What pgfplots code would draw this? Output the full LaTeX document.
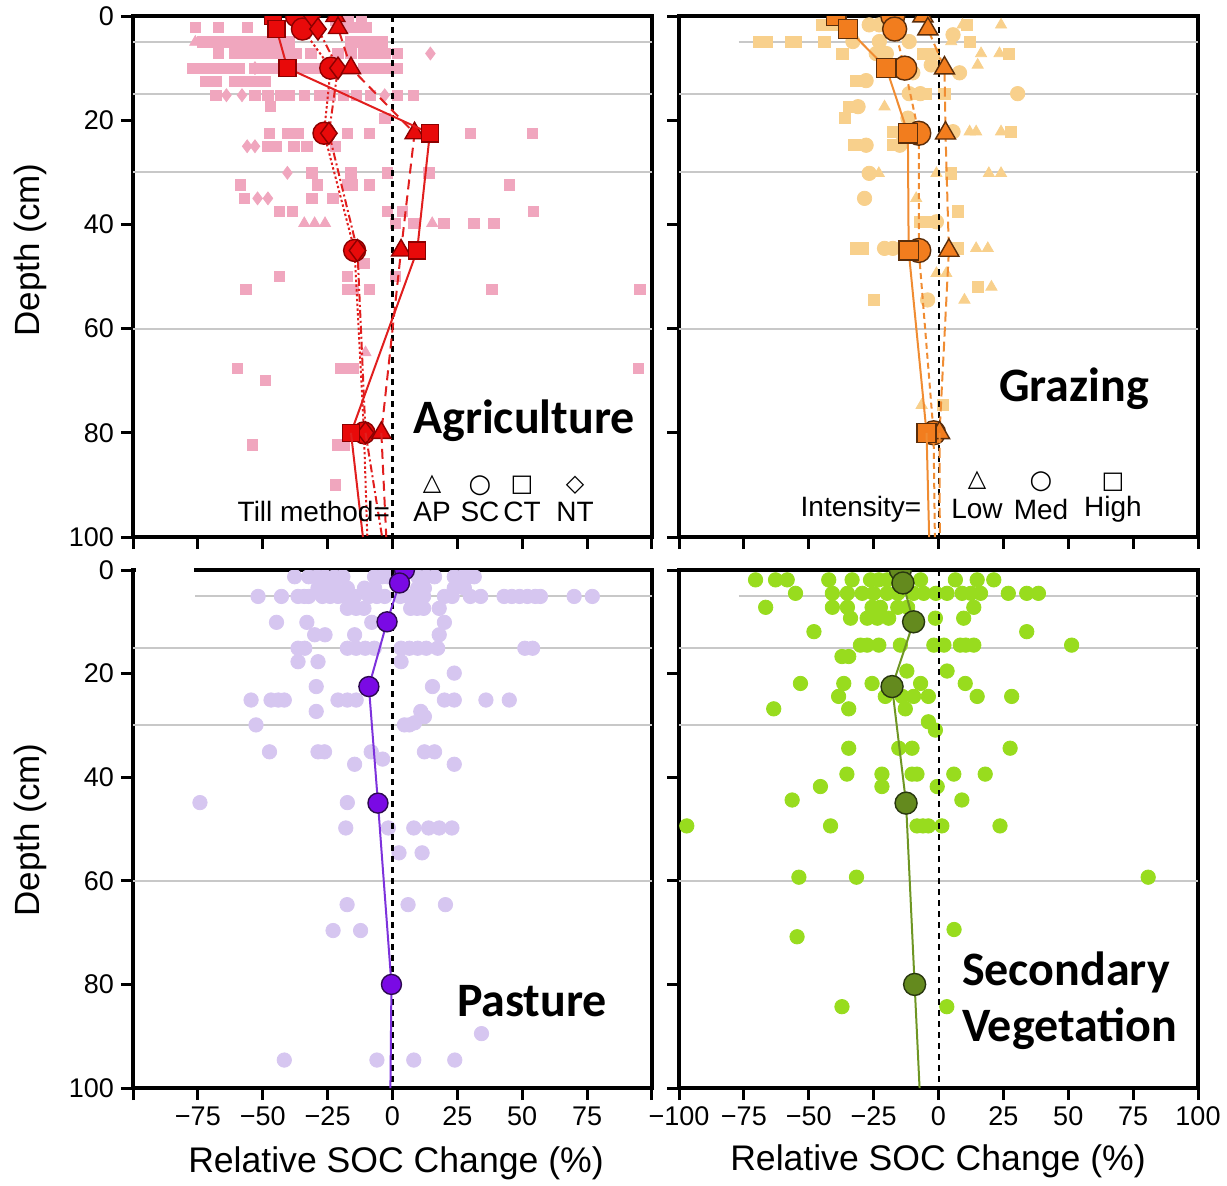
\documentclass[border=0pt]{standalone}
\usepackage{pgfplots}
\pgfplotsset{compat=1.18}
\usepackage{fontspec}
\setmainfont{Liberation Sans}
\newfontfamily\calibri{Carlito}
\newfontfamily\dejavu{DejaVu Sans}

\definecolor{agpink}{RGB}{240,166,190}
\definecolor{agred}{RGB}{232,10,10}
\definecolor{agdark}{RGB}{140,0,0}
\definecolor{agline}{RGB}{225,30,30}
\definecolor{grlight}{RGB}{248,208,140}
\definecolor{grorange}{RGB}{242,125,30}
\definecolor{grdark}{RGB}{90,45,10}
\definecolor{grline}{RGB}{240,140,50}
\definecolor{palight}{RGB}{214,198,240}
\definecolor{papurple}{RGB}{122,10,228}
\definecolor{padark}{RGB}{45,10,80}
\definecolor{paline}{RGB}{125,50,220}
\definecolor{svlight}{RGB}{152,220,30}
\definecolor{svgreen}{RGB}{100,138,30}
\definecolor{svdark}{RGB}{40,55,15}
\definecolor{svline}{RGB}{110,150,35}
\definecolor{gridgray}{RGB}{200,200,200}

\pgfplotsset{
  panel/.style={
    scale only axis, width=259.5pt,
    xmin=-100, xmax=100, ymin=0, ymax=100, y dir=reverse,
    axis line style={line width=2pt},
    xtick={-100,-75,...,100}, ytick={0,20,40,60,80,100},
    tick align=outside, major tick length=6pt,
    every tick/.style={black, line width=1.5pt},
    xtick pos=lower, ytick pos=lower,
    tick label style={font=\fontsize{13.5}{14}\selectfont},
    xticklabels={}, yticklabels={},
    clip marker paths=true,
  },
  gline/.style={gridgray, line width=1pt, forget plot},
  zline/.style={black, line width=1pt, dash pattern=on 3pt off 2.5pt},
}

\begin{document}
\begin{tikzpicture}[x=0.5pt,y=-0.5pt]
\useasboundingbox (0,0) rectangle (1227,1185);

% ---------------- Agriculture ----------------
\begin{axis}[panel, height=260.5pt, at={(66.5pt,-8pt)}, anchor=north west,
  yticklabels={0,20,40,60,80,100}]
\addplot[gline] coordinates {(-100,5) (100,5)};
\addplot[gline] coordinates {(-100,15) (100,15)};
\addplot[gline] coordinates {(-100,30) (100,30)};
\addplot[gline] coordinates {(-100,60) (100,60)};
\addplot[only marks, mark=square*, mark size=2.6pt, agpink] coordinates {
(-22,0.8) (-17,0.8) (-12,0.8)
(-76,2.2) (-67,2.2) (-56,2.2) (-18,2.2) (-14,2.2) (-10,2.2)
(-73,5) (-70,5) (-67,5) (-64,5) (-61,5) (-58,5) (-55,5) (-52,5) (-49,5) (-46,5) (-43,5) (-40,5) (-16,5) (-13,5) (-10,5) (-7,5) (-4,5)
(-67,7.2) (-61,7.2) (-58,7.2) (-55,7.2) (-52,7.2) (-49,7.2) (-46,7.2) (-43,7.2) (-40,7.2) (-37,7.2) (-31.5,7.2) (-21,7.2) (-16,7.2) (-11,7.2) (-7,7.2) (-3,7.2) (2,7.2)
(-77,10) (-74,10) (-71,10) (-68,10) (-65,10) (-62,10) (-59,10) (-53,10) (-50,10) (-47,10) (-44,10) (-36,10) (-33,10) (-29,10) (-11,10) (-8,10) (-5,10) (-2,10) (2,10)
(-72,12.6) (-68,12.6) (-61,12.6) (-58,12.6) (-55,12.6) (-52,12.6) (-49,12.6)
(-68,15.2) (-53,15.2) (-48,15.2) (-43,15.2) (-40,15.2) (-34,15.2) (-28,15.2) (-24,15.2) (-19,15.2) (-14,15.2) (-8.5,15.2) (2,15.2) (8,15.2)
(-47,17.4) (-3,19.6)
(-47.5,22.5) (-40.5,22.5) (-36.5,22.5) (-17.4,22.5) (-9,22.5) (30,22.5) (54,22.5)
(-48,25) (-45,25) (-38,25) (-33,25) (-22,25)
(-31,30.1) (-16,30.1) (-2,30.1) (14,30.1)
(-58.5,32.4) (-29,32.4) (-17.4,32.4) (-15.6,32.4) (-9,32.4) (45,32.4)
(-57,35) (-31,35) (-23,35)
(-43.5,37.5) (-38.5,37.5) (-2,37.5) (3.7,37.5) (54.4,37.5)
(1.2,39.8) (8.2,39.8) (19.8,39.8) (31.3,39.8) (39,39.8)
(-11,47.5)
(-43.5,50) (-17.4,50) (1.2,50)
(-56.5,52.5) (-17.4,52.5) (-15,52.5) (-9,52.5) (38.3,52.5) (95.4,52.5)
(-59.7,67.6) (-20,67.6) (-17,67.6) (-15,67.6) (94.8,67.6)
(-49,69.9)
(-54,82.3) (-21,82.3) (-18.7,82.3)
(-22,90)
};
\addplot[only marks, mark=diamond*, mark size=3.2pt, agpink] coordinates {
(14.6,7.2) (-64,15.2) (-58,15.2) (-3,15.2) (-56,25) (-53,25) (-40.5,30.1) (-52,35) (-48,35) (-53,10)
};
\addplot[only marks, mark=triangle*, mark size=3.2pt, agpink] coordinates {
(-76,5) (-34,39.8) (-30,39.8) (-26,39.8) (15.3,39.8) (-10.4,64.6)
};
\addplot[zline] coordinates {(0,0) (0,100)};
% means
\addplot[agline, line width=1pt, dash pattern=on 1.2pt off 1.2pt, mark=*, mark size=5.5pt,
  mark options={solid, fill=agred, draw=agdark, line width=0.7pt}]
  coordinates {(-37,0) (-34.7,2.5) (-23.8,10) (-26.4,22.5) (-14.6,45) (-11,80)};
\addplot[agline, line width=1pt, dash pattern=on 1.2pt off 1.2pt] coordinates {(-11,80) (-9.7,100)};
\addplot[agline, line width=1pt, dash pattern=on 4pt off 1.5pt on 1pt off 1.5pt, mark=diamond*, mark size=5.5pt,
  mark options={solid, fill=agred, draw=agdark, line width=0.7pt}]
  coordinates {(-31,0) (-28.7,2.5) (-21,10) (-24.5,22.5) (-13.5,45) (-10.4,80)};
\addplot[agline, line width=1pt, dash pattern=on 4pt off 1.5pt on 1pt off 1.5pt] coordinates {(-10.4,80) (-4,100)};
\addplot[agline, line width=1pt, dash pattern=on 5pt off 3pt, mark=triangle*, mark size=5.5pt,
  mark options={solid, fill=agred, draw=agdark, line width=0.7pt}]
  coordinates {(-22,0) (-21,2.3) (-16,10) (8.5,22.5) (3.3,45) (-4.3,80)};
\addplot[agline, line width=1pt, dash pattern=on 5pt off 3pt] coordinates {(-4.3,80) (-2.4,100)};
\addplot[agline, line width=1pt, mark=square*, mark size=4.3pt,
  mark options={solid, fill=agred, draw=agdark, line width=0.7pt}]
  coordinates {(-46,0) (-44.7,2.5) (-40.5,10) (14.4,22.5) (9.5,45) (-16,80)};
\addplot[agline, line width=1pt] coordinates {(-16,80) (-11.4,100)};
\end{axis}

% ---------------- Grazing ----------------
\begin{axis}[panel, height=260.5pt, at={(339.5pt,-8pt)}, anchor=north west]
\addplot[gline] coordinates {(-77,5) (100,5)};
\addplot[gline] coordinates {(-100,15) (100,15)};
\addplot[gline] coordinates {(-100,30) (100,30)};
\addplot[gline] coordinates {(-100,60) (100,60)};
\addplot[only marks, mark=square*, mark size=2.8pt, grlight] coordinates {
(-45,1.7) (-41,1.7) (11,1.7)
(-69,4.9) (-66,4.9) (-57,4.9) (-55,4.9) (-44,4.9) (12,4.9)
(-37,7.2) (-6,7.2) (-2,7.2) (27,7.2)
(-31.7,12.4) (-9,14.9) (-5,14.9) (2.3,14.9)
(-34.3,17.4) (-36.2,19.6)
(-17.5,22.2) (27.9,22.2)
(-32.4,24.8) (-17.5,24.8)
(4.9,30.2) (7.4,37.5) (-7.3,39.5) (-4.7,39.5)
(-31.7,44.6) (-29,44.6) (7.4,44.6)
(15.3,52) (-24.8,54.5) (1.6,74.7)
};
\addplot[only marks, mark=*, mark size=3.6pt, grlight] coordinates {
(-26.7,1.7) (-22.8,1.7) (5.6,3.6) (-33,4.9) (-22.8,4.9) (-11.3,4.9) (-24,7.2) (-20.1,7.2)
(-2.8,9.4) (-9.9,10.9) (8.1,10.9) (-27.9,12.4) (-11.3,14.9) (-7,14.9) (30.5,14.9)
(-31,17.4) (-11.8,19.6) (5.6,22.2) (-27.9,24.8) (-14.9,24.8) (-26.7,30.2) (-28.5,35)
(-0.8,39.5) (-20.8,44.6) (-17.6,44.6) (-4.2,54.5) (-14,44.6)
};
\addplot[only marks, mark=triangle*, mark size=3.2pt, grlight] coordinates {
(9.3,1.7) (24.1,1.7) (4.9,4.9) (16.4,7.2) (23.5,7.2) (15.1,9.4) (-20.8,17.4) (12,22.2)
(14.5,22.2) (24.1,22.2) (-23,30.2) (-0.8,30.2) (19.4,30.2) (24.1,30.2) (-8.6,35)
(14.5,44.6) (19,44.6) (-0.8,49.4) (3,49.4) (20.4,52) (10,54.5) (-6.5,74.7)
};
\addplot[zline] coordinates {(0,0) (0,100)};
\addplot[grline, line width=1pt, dash pattern=on 3pt off 2pt, mark=*, mark size=6pt,
  mark options={solid, fill=grorange, draw=grdark, line width=0.7pt}]
  coordinates {(-17.6,0) (-16.9,2.5) (-13,10) (-7.6,22.5) (-7.6,45) (-1.9,80)};
\addplot[grline, line width=1pt, dash pattern=on 3pt off 2pt] coordinates {(-1.9,80) (-1.4,100)};
\addplot[grline, line width=1pt, dash pattern=on 5pt off 2.5pt, mark=triangle*, mark size=5.8pt,
  mark options={solid, fill=grorange, draw=grdark, line width=0.7pt}]
  coordinates {(-6,0) (-4.1,2.5) (2.3,10) (2.7,22.5) (4,45) (0.4,80)};
\addplot[grline, line width=1pt, dash pattern=on 5pt off 2.5pt] coordinates {(0.4,80) (0.5,100)};
\addplot[grline, line width=1pt, mark=square*, mark size=4.8pt,
  mark options={solid, fill=grorange, draw=grdark, line width=0.7pt}]
  coordinates {(-39.4,0) (-34.9,2.5) (-20.1,10) (-11.8,22.5) (-11.5,45) (-4.6,80)};
\addplot[grline, line width=1pt] coordinates {(-4.6,80) (-3.6,100)};
\end{axis}

% ---------------- Pasture ----------------
\begin{axis}[panel, height=259pt, at={(66.5pt,-285pt)}, anchor=north west,
  yticklabels={0,20,40,60,80,100},
  xticklabels={,−75,−50,−25,0,25,50,75,}]
\addplot[gline] coordinates {(-76,5) (100,5)};
\addplot[gline] coordinates {(-100,15) (100,15)};
\addplot[gline] coordinates {(-100,30) (100,30)};
\addplot[gline] coordinates {(-100,60) (100,60)};
\addplot[only marks, mark=*, mark size=3.6pt, palight] coordinates {
(-37.7,1.3) (-32.3,1.3) (-29,1.3) (-26,1.3) (-22.3,1.3) (-19.1,1.3) (-6.9,1.3) (-4,1.3) (-1.8,1.3) (9.7,1.3) (13,1.3) (16.2,1.3) (23.8,1.3) (27,1.3) (29,1.3) (31.5,1.3)
(-28.7,3.5) (-25.5,3.5) (-22.3,3.5) (-17.4,3.5) (-10.8,3.5) (-6.9,3.5) (9.7,3.5) (12.3,3.5) (23.8,3.5) (27.7,3.5)
(-51.8,5.1) (-42.8,5.1) (-36.4,5.1) (-34,5.1) (-32.3,5.1) (-27,5.1) (-24,5.1) (-21,5.1) (-18,5.1) (-14.6,5.1) (-9,5.1) (-6,5.1) (-3,5.1) (3,5.1) (6,5.1) (9,5.1) (12,5.1) (20,5.1) (23,5.1) (30,5.1) (34,5.1) (43,5.1) (46,5.1) (49,5.1) (52,5.1) (55,5.1) (57,5.1) (70,5.1) (77,5.1)
(-17.4,7.4) (-14,7.4) (-11,7.4) (7,7.4) (9.5,7.4) (12,7.4) (18,7.4)
(-44.7,10.1) (-33,10.1) (-8,10.1) (20,10.1)
(-30,12.5) (-26,12.5) (-14.6,12.5) (18,12.5)
(-36.4,15.1) (-33.8,15.1) (-17.4,15.1) (-14,15.1) (-10.5,15.1) (-7,15.1) (3.3,15.1) (6.5,15.1) (9.7,15.1) (13,15.1) (17.4,15.1) (51,15.1) (54,15.1)
(-36.4,17.7) (-28.7,17.7) (3.3,17.7) (23.8,19.9)
(-29.4,22.5) (15.4,22.5)
(-54.5,25.1) (-46.8,25.1) (-44,25.1) (-41.7,25.1) (-21,25.1) (-17.4,25.1) (-14,25.1) (20,25.1) (23.8,25.1) (36,25.1) (45,25.1)
(-29.4,27.3) (10.9,27.3) (12.3,28.3)
(-52.6,29.9) (4.6,29.9) (6.5,29.9) (8.5,29.5)
(-47.4,35.1) (-28.7,35.1) (-26.2,35.1) (-8.2,35.1) (12.3,35.1) (16.2,35.1)
(-14.6,37.5) (-3.8,36.5) (23.8,37.5)
(-74.2,44.9) (-17.4,44.9)
(-18,49.8) (-1.6,49.8) (8.2,49.8) (13.9,49.8) (18,49.8) (22.9,49.8)
(2.5,54.6) (11.4,54.6)
(-17.5,64.6) (6,64.6) (20.4,64.6)
(-22.9,69.6) (-12.3,69.6)
(34.3,89.5)
(-41.7,94.6) (-6,94.6) (8.2,94.6) (24,94.6)
};
\addplot[zline] coordinates {(0,0) (0,100)};
\addplot[paline, line width=1pt] coordinates {(4.6,0) (2.7,2.5) (-2.1,10) (-9.1,22.5) (-5.6,45) (-0.4,80) (-0.8,100)};
\addplot[only marks, mark=*, mark size=5pt, mark options={fill=papurple, draw=padark, line width=0.7pt}]
  coordinates {(4.6,0) (2.7,2.5) (-2.1,10) (-9.1,22.5) (-5.6,45) (-0.4,80)};
\end{axis}

% ---------------- Secondary Vegetation ----------------
\begin{axis}[panel, height=259pt, at={(339.5pt,-285pt)}, anchor=north west,
  xticklabels={−100,−75,−50,−25,0,25,50,75,100}]
\addplot[gline] coordinates {(-77,5) (100,5)};
\addplot[gline] coordinates {(-100,15) (100,15)};
\addplot[gline] coordinates {(-100,30) (100,30)};
\addplot[gline] coordinates {(-100,60) (100,60)};
\addplot[only marks, mark=*, mark size=3.6pt, svlight] coordinates {
(-70.5,1.9) (-62.8,1.9) (-58.3,1.9) (-42.3,1.9) (-33.3,1.9) (-26.2,1.9) (-23,1.9) (-19.8,1.9) (-6.9,1.9) (6.5,1.9) (14.9,1.9) (21.3,1.9)
(-55.1,4.5) (-40.9,4.5) (-35.1,4.5) (-29.4,4.5) (-25,4.5) (-19.8,4.5) (-15.7,4.5) (-9.6,4.5) (-5.7,4.5) (-1,4.5) (3.3,4.5) (9.1,4.5) (12.5,4.5) (16.2,4.5) (26.9,4.5) (34,4.5) (38.5,4.5)
(-66.6,7.2) (-40.9,7.2) (-35.1,7.2) (-25.6,7.2) (-22.4,7.2) (-15.7,7.2) (-11.9,7.2) (13.6,7.2)
(-33.9,9.3) (-27.5,9.3) (-23.6,9.3) (-19.2,9.3) (-1.2,9.3) (9.7,9.3)
(-48,11.9) (34,11.9)
(-30.1,14.5) (-27.5,14.5) (-23,14.5) (-14.7,14.5) (-1.8,14.5) (2.1,14.5) (8.4,14.5) (10.5,14.5) (13.6,14.5) (51.3,14.5)
(-37.2,16.7) (-34.6,16.7)
(-12.2,19.5) (3.3,19.5)
(-53.2,21.9) (-36.5,21.9) (-25.6,21.9) (-6.9,21.9) (10.3,21.9)
(-38.5,24.4) (-20.5,24.4) (-14,24.4) (-9.6,24.4) (-3.9,24.4) (14.9,24.4) (28.2,24.4)
(-63.5,26.8) (-34.6,26.8) (-12.8,26.8)
(-3.9,29.3) (-1.2,30.9)
(-34.6,34.4) (-15.3,34.4) (-10.2,34.4) (27.6,34.4)
(-35.3,39.4) (-21.8,39.4) (-10.2,39.4) (-8.3,39.4) (5.9,39.4) (18,39.4)
(-45.5,41.8) (-21.8,41.8) (-0.5,41.8)
(-56.4,44.4) (9,44.4)
(-97,49.4) (-41.6,49.4) (-8.3,49.4) (-6,49.4) (-3.9,49.4) (1.3,49.4) (23.7,49.4)
(-53.8,59.3) (-31.6,59.3) (80.8,59.3)
(6,69.4) (-54.5,70.8)
(-37.2,84.3) (3.2,84.3)
};
\addplot[zline] coordinates {(0,0) (0,100)};
\addplot[svline, line width=1pt] coordinates {(-14.7,0) (-13.7,2.5) (-9.6,10) (-17.9,22.5) (-12.5,45) (-9.2,80) (-7.3,100)};
\addplot[only marks, mark=*, mark size=5.5pt, mark options={fill=svgreen, draw=svdark, line width=0.7pt}]
  coordinates {(-14.7,0) (-13.7,2.5) (-9.6,10) (-17.9,22.5) (-12.5,45) (-9.2,80)};
\end{axis}

% white patch artifact (top-left of pasture panel)
\fill[white] (136,563) rectangle (194,576);

% axis labels
\node[rotate=90, font=\fontsize{17.5}{18}\selectfont] at (30,250) {Depth (cm)};
\node[rotate=90, font=\fontsize{17.5}{18}\selectfont] at (30,830) {Depth (cm)};
\node[font=\fontsize{17.8}{18}\selectfont] at (396,1163) {Relative SOC Change (\%)};
\node[font=\fontsize{17.8}{18}\selectfont] at (938,1161) {Relative SOC Change (\%)};

% panel labels
\node[font=\calibri\bfseries\fontsize{24}{26}\selectfont] at (524,421) {Agriculture};
\node[font=\calibri\bfseries\fontsize{24}{26}\selectfont] at (1074,389) {Grazing};
\node[font=\calibri\bfseries\fontsize{24}{26}\selectfont] at (532,1001) {Pasture};
\node[font=\calibri\bfseries\fontsize{24}{28}\selectfont, align=left, anchor=west] at (955,1001) {Secondary\\Vegetation};

% legend texts
\node[font=\fontsize{14}{15}\selectfont, anchor=east] at (397,511) {Till method=};
\node[font=\fontsize{14}{15}\selectfont] at (432,512) {AP};
\node[font=\fontsize{14}{15}\selectfont] at (480,512) {SC};
\node[font=\fontsize{14}{15}\selectfont] at (522,512) {CT};
\node[font=\fontsize{14}{15}\selectfont] at (575,512) {NT};
\node[font=\dejavu\fontsize{12}{13}\selectfont] at (432,484) {△};
\node[font=\dejavu\fontsize{13}{14}\selectfont] at (480,486) {○};
\node[font=\dejavu\fontsize{12}{13}\selectfont] at (522,485) {□};
\node[font=\dejavu\fontsize{12}{13}\selectfont] at (575,485) {◇};

\node[font=\fontsize{14}{15}\selectfont] at (861,509) {Intensity=};
\node[font=\fontsize{14}{15}\selectfont] at (977,509) {Low};
\node[font=\fontsize{14}{15}\selectfont] at (1041,509) {Med};
\node[font=\fontsize{14}{15}\selectfont] at (1113,509) {High};
\node[font=\dejavu\fontsize{12}{13}\selectfont] at (977,480) {△};
\node[font=\dejavu\fontsize{13}{14}\selectfont] at (1041,482) {○};
\node[font=\dejavu\fontsize{12}{13}\selectfont] at (1113,482) {□};
\end{tikzpicture}
\end{document}
